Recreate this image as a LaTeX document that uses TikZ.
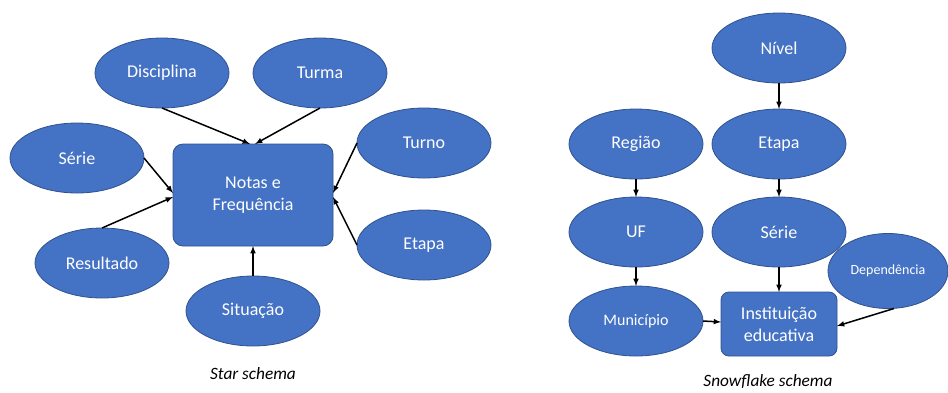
\documentclass[tikz,border=0pt]{standalone}
\usepackage{fontspec}
\setmainfont{Carlito}
\usetikzlibrary{shapes.geometric,positioning}
\definecolor{entfill}{HTML}{4472C4}
\definecolor{entline}{HTML}{2F528F}

\begin{document}
\begin{tikzpicture}[x=1pt,y=-1pt,every node/.style={outer sep=0pt},
    entity/.style={ellipse,draw=entline,fill=entfill,text=white,line width=0.8pt,
    minimum width=134pt,minimum height=70pt,inner sep=0pt,
    font=\fontsize{18}{22}\selectfont},
    fact/.style={rectangle,rounded corners=10pt,draw=entline,fill=entfill,
    text=white,line width=0.8pt,align=center,font=\fontsize{18}{22}\selectfont},
    link/.style={-latex,line width=1.5pt},
    caption/.style={font=\fontsize{17.3}{20}\selectfont\itshape}]
  \useasboundingbox (0,0) rectangle (948,392);

  % star schema
  \node[fact,minimum width=160pt,minimum height=102pt] (notas) at (253,195)
    {Notas e\\Frequência};
  \node[entity] (disc) at (162,73) {Disciplina};
  \node[entity] (turma) at (320,73) {Turma};
  \node[entity] (serie) at (77,158) {Série};
  \node[entity] (result) at (102,263) {Resultado};
  \node[entity] (turno) at (424,143) {Turno};
  \node[entity] (etapa) at (424,245) {Etapa};
  \node[entity,below=30pt of notas] (sit) {Situação};
  \node[caption] (star) at (253,374) {Star schema};

  \draw[link] (disc.south) -- ([xshift=-3pt]notas.north);
  \draw[link] (turma.south) -- ([xshift=2pt]notas.north);
  \draw[link] (serie.east) -- ([yshift=2pt]notas.west);
  \draw[link] (result.north) -- ([yshift=-2pt]notas.west);
  \draw[link] (turno.west) -- ([yshift=2pt]notas.east);
  \draw[link] (etapa.west) -- ([yshift=-2pt]notas.east);
  \draw[link] (sit) -- (notas);

  % snowflake schema
  \node[entity] (nivel) at (779,48) {Nível};
  \node[entity,below=26pt of nivel] (etapa2) {Etapa};
  \node[entity,below=18pt of etapa2] (serie2) {Série};
  \node[fact,rounded corners=8pt,minimum width=116pt,minimum height=64pt,
    below=25pt of serie2] (inst) {Instituição\\educativa};
  \node[entity] (regiao) at (636,144) {Região};
  \node[entity,below=18pt of regiao] (uf) {UF};
  \node[entity,below=19pt of uf,font=\fontsize{16}{19}\selectfont] (munic) {Município};
  \node[entity,minimum width=120pt,minimum height=75pt,
    font=\fontsize{14}{17}\selectfont] (depend) at (888,271) {Dependência};
  \node[caption] (snow) at (768,382) {Snowflake schema};

  \foreach \A/\B in {nivel/etapa2,etapa2/serie2,serie2/inst,regiao/uf,uf/munic}
    \draw[link] (\A) -- (\B);
  \draw[link] (munic.east) -- ([yshift=2pt]inst.west);
  \draw[link] ([xshift=6pt]depend.south) -- ([yshift=-2pt]inst.east);
\end{tikzpicture}
\end{document}
